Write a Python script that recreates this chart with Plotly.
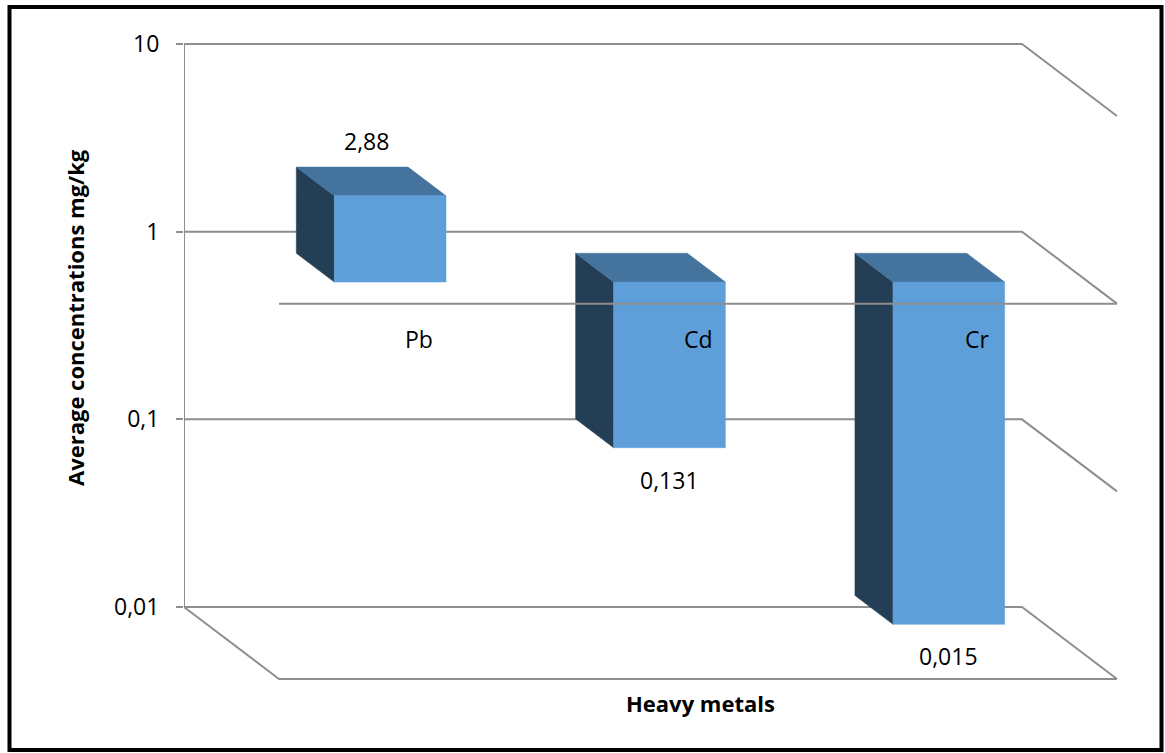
import math
import plotly.graph_objects as go

# ---- data ----
metals = ["Pb", "Cd", "Cr"]
concentrations = [2.88, 0.131, 0.015]
value_labels = ["2,88", "0,131", "0,015"]
tick_values = [0.01, 0.1, 1, 10]
tick_labels = ["0,01", "0,1", "1", "10"]

# ---- 3D projection constants (styling) ----
DX = 95 / 279.33      # x-units shift from back to front plane
DY = 72 / 187.67      # decades shift (downwards) from back to front plane
D_BACK, D_FRONT = 0.30, 0.70
HALF_W = 0.2
BASE = 1.0

FRONT_C = "#5e9ed9"
TOP_C = "#44739e"
SIDE_C = "#243e55"
GRID_C = "#8e8e8e"
FONT = "Open Sans"


def proj(x, d, v):
    return x + DX * d, v * 10 ** (-DY * d)


fig = go.Figure()

# back plane grid + right wall diagonals
gx, gy = [], []
x_left, x_right = -0.5, len(metals) - 0.5
for v in tick_values:
    p1 = proj(x_left, 0, v)
    p2 = proj(x_right, 0, v)
    p3 = proj(x_right, 1, v)
    gx += [p1[0], p2[0], p3[0], None]
    gy += [p1[1], p2[1], p3[1], None]
# vertical axis line
gx += [x_left, x_left, None]
gy += [min(tick_values), max(tick_values), None]
# floor: left diagonal and front edge
f1 = proj(x_left, 0, min(tick_values))
f2 = proj(x_left, 1, min(tick_values))
f3 = proj(x_right, 1, min(tick_values))
gx += [f1[0], f2[0], f3[0]]
gy += [f1[1], f2[1], f3[1]]
fig.add_trace(go.Scatter(x=gx, y=gy, mode="lines",
                         line=dict(color=GRID_C, width=2),
                         hoverinfo="skip", showlegend=False))

# bars
for i, (m, v) in enumerate(zip(metals, concentrations)):
    xl, xr = i - HALF_W, i + HALF_W
    top = max(v, BASE)
    # side face (left)
    pts = [proj(xl, D_BACK, BASE), proj(xl, D_BACK, v),
           proj(xl, D_FRONT, v), proj(xl, D_FRONT, BASE)]
    fig.add_trace(go.Scatter(x=[p[0] for p in pts] + [pts[0][0]],
                             y=[p[1] for p in pts] + [pts[0][1]],
                             fill="toself", fillcolor=SIDE_C, mode="lines",
                             line=dict(color=SIDE_C, width=0.5),
                             hoverinfo="skip", showlegend=False))
    # top face
    pts = [proj(xl, D_BACK, top), proj(xr, D_BACK, top),
           proj(xr, D_FRONT, top), proj(xl, D_FRONT, top)]
    fig.add_trace(go.Scatter(x=[p[0] for p in pts] + [pts[0][0]],
                             y=[p[1] for p in pts] + [pts[0][1]],
                             fill="toself", fillcolor=TOP_C, mode="lines",
                             line=dict(color=TOP_C, width=0.5),
                             hoverinfo="skip", showlegend=False))
    # front face
    pts = [proj(xl, D_FRONT, BASE), proj(xr, D_FRONT, BASE),
           proj(xr, D_FRONT, v), proj(xl, D_FRONT, v)]
    fig.add_trace(go.Scatter(x=[p[0] for p in pts] + [pts[0][0]],
                             y=[p[1] for p in pts] + [pts[0][1]],
                             fill="toself", fillcolor=FRONT_C, mode="lines",
                             line=dict(color=FRONT_C, width=0.5),
                             name=m, hoverinfo="x+y", showlegend=False))

# front category axis line at value 1
a1 = proj(x_left, 1, BASE)
a2 = proj(x_right, 1, BASE)
fig.add_trace(go.Scatter(x=[a1[0], a2[0]], y=[a1[1], a2[1]], mode="lines",
                         line=dict(color=GRID_C, width=2),
                         hoverinfo="skip", showlegend=False))

annotations = []
# category labels
for i, m in enumerate(metals):
    px, py = proj(i, 1, BASE)
    annotations.append(dict(x=px, y=math.log10(py), xref="x", yref="y",
                            xanchor="center", yanchor="middle",
                            text=m, showarrow=False, yshift=-35,
                            font=dict(family=FONT, size=23, color="black")))
# value labels
for i, (v, t) in enumerate(zip(concentrations, value_labels)):
    if v >= BASE:
        px, py = proj(i, D_BACK, v)
        px = px + 0.05
        ys = 26
    else:
        px, py = proj(i, D_FRONT, v)
        ys = -32
    annotations.append(dict(x=px, y=math.log10(py), xref="x", yref="y",
                            xanchor="center", yanchor="middle",
                            text=t, showarrow=False, yshift=ys,
                            font=dict(family=FONT, size=23, color="black")))

# plot-area pixel geometry
L, R, T, B = 184, 1140, 34, 690
W, H = R - L, B - T


def paper_x(px):
    return (px - L) / W


def paper_y(py):
    return (B - py) / H


annotations.append(dict(x=paper_x(75), y=paper_y(318), xref="paper", yref="paper",
                        xanchor="center", yanchor="middle",
                        text="<b>Average concentrations mg/kg</b>", textangle=-90,
                        showarrow=False, font=dict(family=FONT, size=22, color="black")))
annotations.append(dict(x=paper_x(700), y=paper_y(703), xref="paper", yref="paper",
                        xanchor="center", yanchor="middle",
                        text="<b>Heavy metals</b>", showarrow=False,
                        font=dict(family=FONT, size=22, color="black")))

shapes = [dict(type="rect", xref="paper", yref="paper",
               x0=paper_x(9.5), x1=paper_x(1161.5), y0=paper_y(7), y1=paper_y(750),
               line=dict(color="black", width=4), fillcolor="rgba(0,0,0,0)")]

x_range = [-0.5, -0.5 + W / 279.33]
y_top = 1 + (44 - T) / 187.67
y_bot = 1 - (B - 44) / 187.67

fig.update_layout(
    width=1165, height=753,
    margin=dict(l=L, r=1165 - R, t=T, b=753 - B, pad=0),
    paper_bgcolor="white", plot_bgcolor="white",
    showlegend=False,
    annotations=annotations, shapes=shapes,
    xaxis=dict(range=x_range, showgrid=False, zeroline=False, showline=False,
               showticklabels=False, ticks=""),
    yaxis=dict(type="log", range=[y_bot, y_top], showgrid=False, zeroline=False,
               showline=False, tickvals=tick_values, ticktext=tick_labels,
               ticks="outside", ticklen=7, tickwidth=2, tickcolor=GRID_C,
               ticklabelstandoff=12,
               tickfont=dict(family=FONT, size=23, color="black")),
)

fig.write_html("out.html", config={"displayModeBar": False},
               post_script="document.body.style.margin='0';document.body.style.padding='0';")
